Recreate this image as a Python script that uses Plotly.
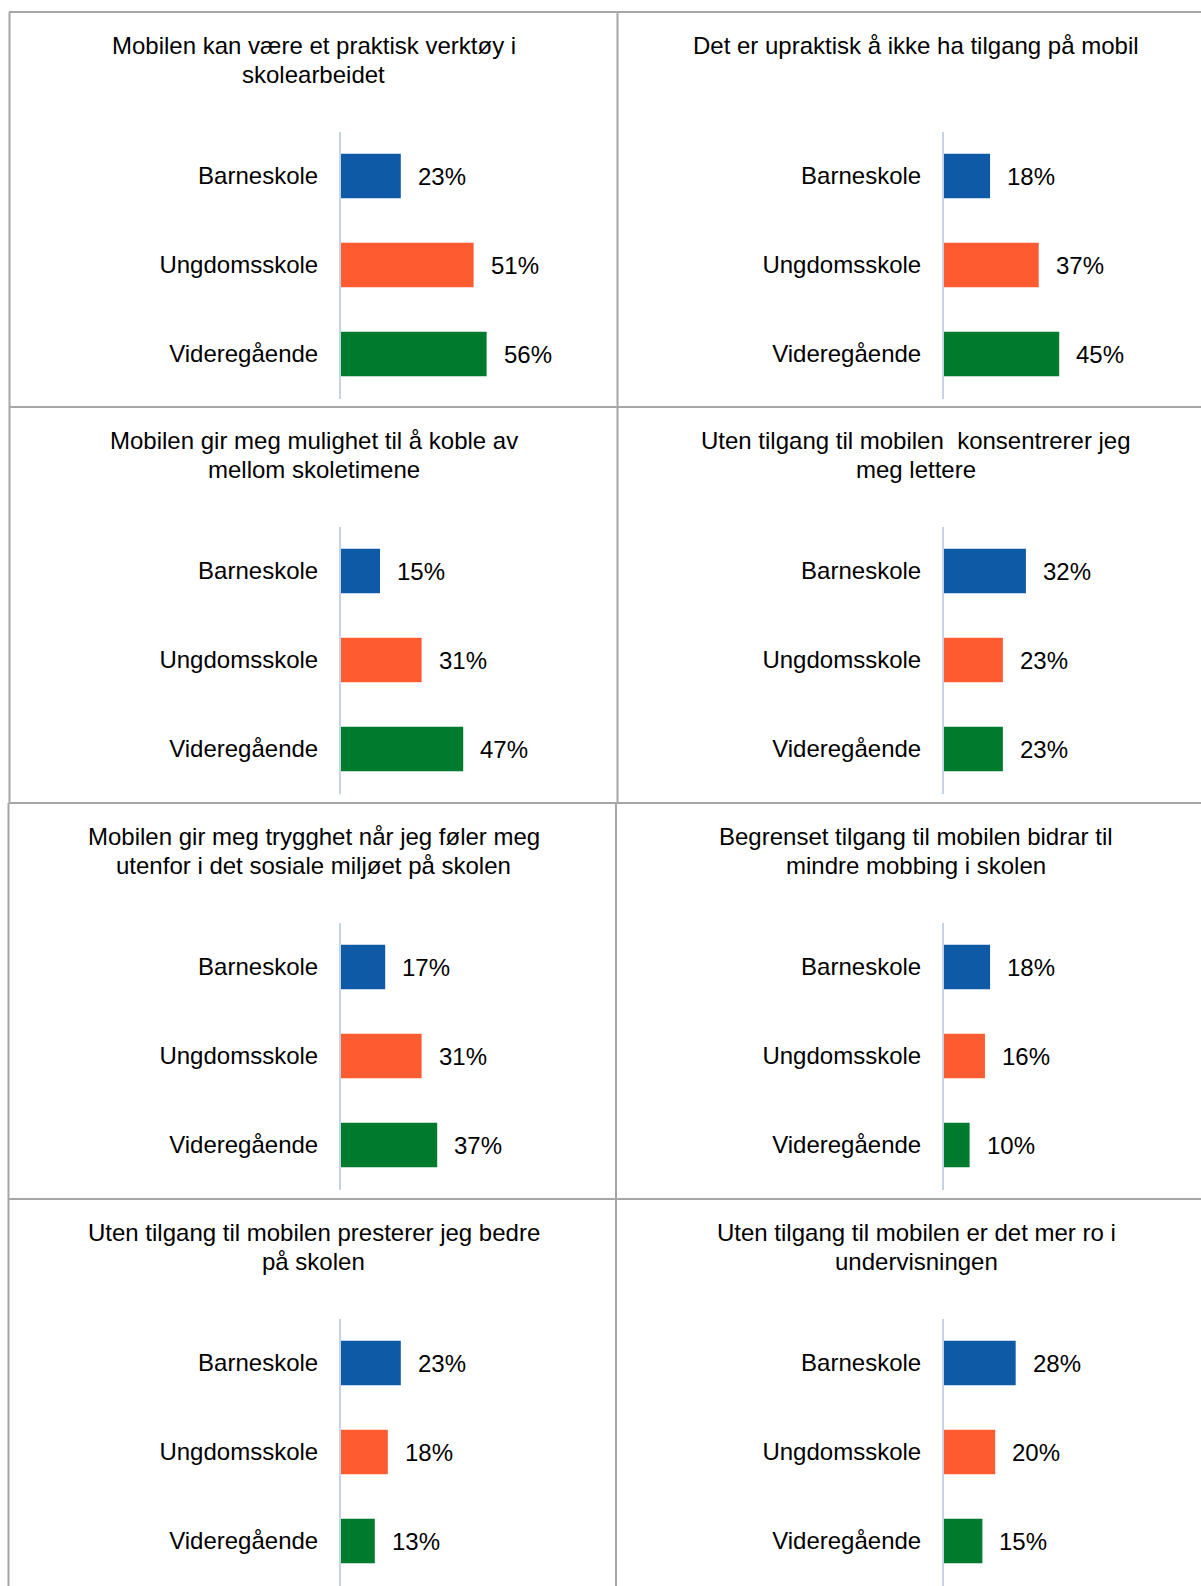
import plotly.graph_objects as go

# ---- data ----
categories = ["Barneskole", "Ungdomsskole", "Videregående"]
titles = [
    ["Mobilen kan være et praktisk verktøy i", "skolearbeidet"],
    ["Det er upraktisk å ikke ha tilgang på mobil"],
    ["Mobilen gir meg mulighet til å koble av", "mellom skoletimene"],
    ["Uten tilgang til mobilen\u00a0 konsentrerer jeg", "meg lettere"],
    ["Mobilen gir meg trygghet når jeg føler meg", "utenfor i det sosiale miljøet på skolen"],
    ["Begrenset tilgang til mobilen bidrar til", "mindre mobbing i skolen"],
    ["Uten tilgang til mobilen presterer jeg bedre", "på skolen"],
    ["Uten tilgang til mobilen er det mer ro i", "undervisningen"],
]
values_p1 = [23, 51, 56]
values_p2 = [18, 37, 45]
values_p3 = [15, 31, 47]
values_p4 = [32, 23, 23]
values_p5 = [17, 31, 37]
values_p6 = [18, 16, 10]
values_p7 = [23, 18, 13]
values_p8 = [28, 20, 15]
panel_values = [values_p1, values_p2, values_p3, values_p4,
                values_p5, values_p6, values_p7, values_p8]

# ---- styles / layout ----
colors = ["#0E5AA7", "#FF5B31", "#007A2D"]
W, H = 1201, 1586
FONT = "Liberation Sans, Arial, sans-serif"
FS = 24
row_tops = [12, 407, 803, 1199]
axis_x = [341, 944]
px_per_pct = [2.6, 2.56]
plot_w = 255
title_cx = [313.5, 916]
plot_top_rel = 119.5
plot_h = 267
title_line_rel = [33, 62.5]

fig = go.Figure()
annotations = []
shapes = []
layout_axes = {}

for i, (title, vals) in enumerate(zip(titles, panel_values)):
    r, c = divmod(i, 2)
    n = i + 1
    xa = "x" if n == 1 else f"x{n}"
    ya = "y" if n == 1 else f"y{n}"
    fig.add_trace(go.Bar(
        x=vals, y=categories, orientation="h",
        marker=dict(color=colors, line=dict(width=0)),
        width=0.5, xaxis=xa, yaxis=ya, showlegend=False,
        hoverinfo="x+y",
    ))
    x0 = axis_x[c]
    top = row_tops[r] + plot_top_rel
    bot = top + plot_h
    layout_axes[f"xaxis{'' if n == 1 else n}"] = dict(
        domain=[x0 / W, (x0 + plot_w) / W],
        range=[0, plot_w / px_per_pct[c]],
        anchor=ya, showgrid=False, zeroline=False, showline=False,
        showticklabels=False, ticks="", fixedrange=True,
    )
    layout_axes[f"yaxis{'' if n == 1 else n}"] = dict(
        domain=[1 - bot / H, 1 - top / H],
        anchor=xa, type="category", categoryarray=categories,
        range=[2.5, -0.5], showgrid=False, zeroline=False,
        showline=True, linecolor="#C5D3E5", linewidth=2,
        ticks="", ticklabelstandoff=16,
        tickfont=dict(family=FONT, size=FS, color="#000000"),
        fixedrange=True,
    )
    for cat, v in zip(categories, vals):
        annotations.append(dict(
            x=v, y=cat, xref=xa, yref=ya, text=f"{v}%",
            showarrow=False, xanchor="left", yanchor="middle", xshift=15,
            font=dict(family=FONT, size=FS, color="#000000"),
        ))
    for k, line in enumerate(title):
        yc = row_tops[r] + title_line_rel[k]
        annotations.append(dict(
            x=title_cx[c] / W, y=1 - yc / H, xref="paper", yref="paper",
            text=line, showarrow=False, xanchor="center", yanchor="middle",
            font=dict(family=FONT, size=FS, color="#000000"),
        ))

# panel borders
BC = "#A6A6A6"
for y in row_tops:
    shapes.append(dict(type="line", xref="paper", yref="paper",
                       x0=9 / W, x1=1, y0=1 - y / H, y1=1 - y / H,
                       line=dict(color=BC, width=2)))
verts = [(9.5, 617.5), (9.5, 617.5), (8.5, 616), (8.5, 616)]
for r, (xl, xm) in enumerate(verts):
    y0 = row_tops[r]
    y1 = row_tops[r + 1] if r + 1 < len(row_tops) else H
    for xv in (xl, xm):
        shapes.append(dict(type="line", xref="paper", yref="paper",
                           x0=xv / W, x1=xv / W, y0=1 - y0 / H, y1=1 - y1 / H,
                           line=dict(color=BC, width=2)))

fig.update_layout(
    width=W, height=H,
    margin=dict(l=0, r=0, t=0, b=0),
    paper_bgcolor="white", plot_bgcolor="white",
    annotations=annotations, shapes=shapes,
    bargap=0.5,
    **layout_axes,
)

fig.write_html("out.html", config={"displayModeBar": False},
               post_script="document.body.style.margin='0';")
